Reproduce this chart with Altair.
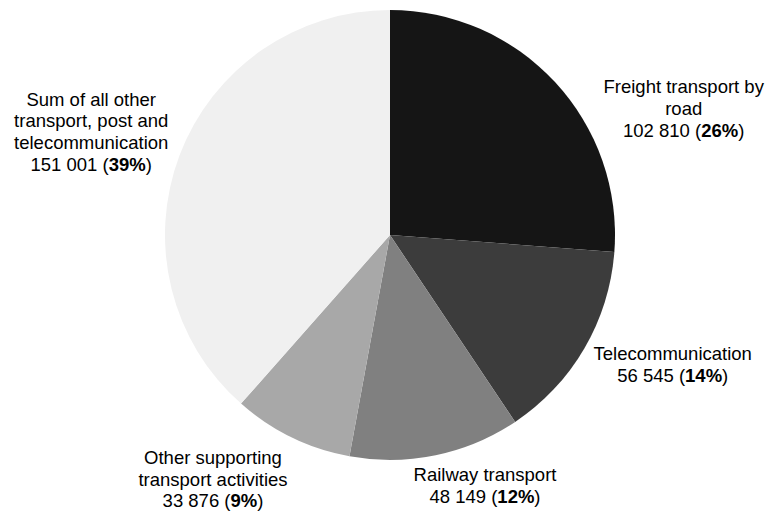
import altair as alt
import pandas as pd

# ---- data ----
categories = [
    "Freight transport by road",
    "Telecommunication",
    "Railway transport",
    "Other supporting transport activities",
    "Sum of all other transport, post and telecommunication",
]
values = [102810, 56545, 48149, 33876, 151001]
percent_labels = [26, 14, 12, 9, 39]
label_lines = [
    ["Freight transport by", "road"],
    ["Telecommunication"],
    ["Railway transport"],
    ["Other supporting", "transport activities"],
    ["Sum of all other", "transport, post and", "telecommunication"],
]

# ---- styles / layout ----
colors = ["#151515", "#3c3c3c", "#808080", "#a8a8a8", "#f0f0f0"]
label_anchor = [(683.7, 93.3), (672.7, 360.0), (485.0, 481.0), (213.0, 464.0), (91.2, 105.7)]
PAD_L, PAD_T, PAD_B = 12, 0, 46
W, H = 756, 470
R = 225
FONT = "Liberation Sans"
FS = 18.5
LH = 21.7

# Arial / Liberation Sans advance widths (1/1000 em)
ADV = {d: 556 for d in "0123456789"}
ADV.update({" ": 278, "(": 333, ")": 333, "%": 889})


def text_w(s):
    return sum(ADV[c] for c in s) * FS / 1000.0


arc_df = pd.DataFrame({"category": categories, "value": values, "order": list(range(len(categories)))})

center_rows, normal_rows, bold_rows = [], [], []
for cat, v, p, lines, (cx, y0) in zip(categories, values, percent_labels, label_lines, label_anchor):
    for i, ln in enumerate(lines):
        center_rows.append({"text": ln, "x": cx - PAD_L, "y": y0 + i * LH - PAD_T})
    yn = y0 + len(lines) * LH - PAD_T
    p1 = f"{v:,}".replace(",", " ") + " ("
    p2 = f"{p}%"
    p3 = ")"
    w1, w2, w3 = text_w(p1), text_w(p2), text_w(p3)
    xs = cx - (w1 + w2 + w3) / 2 - PAD_L
    normal_rows.append({"text": p1, "x": xs, "y": yn})
    bold_rows.append({"text": p2, "x": xs + w1, "y": yn})
    normal_rows.append({"text": p3, "x": xs + w1 + w2, "y": yn})

pie = alt.Chart(arc_df).mark_arc(outerRadius=R).encode(
    theta=alt.Theta("value:Q", stack=True),
    color=alt.Color("category:N", scale=alt.Scale(domain=categories, range=colors), legend=None),
    order=alt.Order("order:Q"),
)

enc = dict(x=alt.X("x:Q", scale=None), y=alt.Y("y:Q", scale=None), text="text:N")

t_center = alt.Chart(pd.DataFrame(center_rows)).mark_text(
    font=FONT, fontSize=FS, align="center", baseline="alphabetic", color="#000000"
).encode(**enc)
t_normal = alt.Chart(pd.DataFrame(normal_rows)).mark_text(
    font=FONT, fontSize=FS, align="left", baseline="alphabetic", color="#000000"
).encode(**enc)
t_bold = alt.Chart(pd.DataFrame(bold_rows)).mark_text(
    font=FONT, fontSize=FS, fontWeight="bold", align="left", baseline="alphabetic", color="#000000"
).encode(**enc)

chart = (
    alt.layer(pie, t_center, t_normal, t_bold)
    .properties(
        width=W,
        height=H,
        autosize="none",
        padding={"left": PAD_L, "top": PAD_T, "right": 0, "bottom": PAD_B},
        background="white",
    )
    .configure_view(stroke=None)
)

chart.save("out.html", embed_options={"renderer": "svg", "actions": False})
